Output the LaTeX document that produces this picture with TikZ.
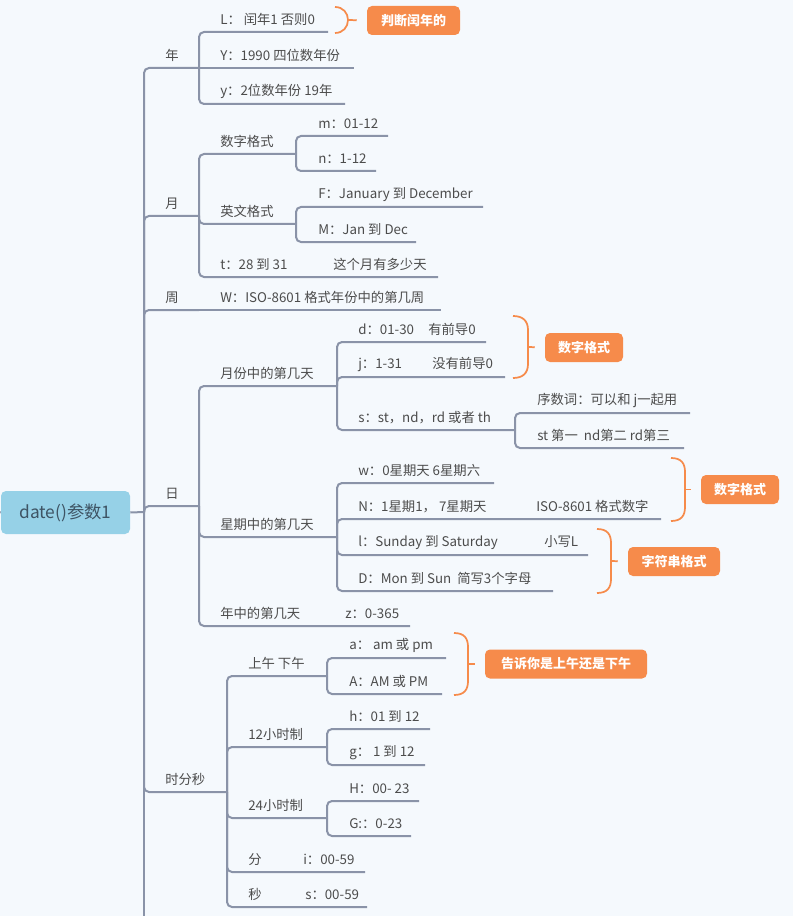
\documentclass[tikz,border=0pt]{standalone}
\usepackage{fontspec}
\setmainfont{Noto Sans CJK SC}
\definecolor{bgclr}{RGB}{245,249,253}
\definecolor{lnclr}{RGB}{138,147,168}
\definecolor{txtclr}{RGB}{76,76,76}
\definecolor{rootclr}{RGB}{150,209,231}
\definecolor{rtxtclr}{RGB}{62,84,100}
\definecolor{orclr}{RGB}{246,139,75}
\tikzset{
  topic/.style={anchor=west, inner sep=0pt, yshift=-1.1pt, text=txtclr},
  branch/.style={draw=lnclr, line width=1.5pt, rounded corners=3.75pt},
  callout/.style={fill=orclr, rounded corners=3.75pt, text=white, minimum height=21.75pt, inner sep=0pt, font=\fontsize{9.75pt}{12pt}\selectfont\bfseries},
  brc/.style={draw=orclr, line width=1.3pt},
}
\begin{document}
\begin{tikzpicture}[x=0.75pt,y=-0.75pt,node font=\fontsize{10pt}{12pt}\selectfont]
			\useasboundingbox (0,0) rectangle (793,916);
			\fill[bgclr] (0,0) rectangle (793,916);
			% root
			\node[fill=rootclr, rounded corners=3.75pt, minimum width=96.75pt, minimum height=32.25pt, text=rtxtclr, font=\fontsize{13pt}{15pt}\selectfont] (root) at (65.5,512.5) {date()参数1};
			\coordinate (tr) at (144,512);
			\coordinate (up) at (-2,512);
			\coordinate (dn) at (144,920);
			% first level
			\node[topic] (nian) at (165,54) {年};      \coordinate (nian-e) at (199,68);
			\node[topic] (yue) at (165,202) {月};      \coordinate (yue-e) at (199,216);
			\node[topic] (zhou) at (165,296) {周};     \coordinate (zhou-e) at (199,310);
			\node[topic] (ri) at (165,492) {日};       \coordinate (ri-e) at (199,506);
			\node[topic] (sfm) at (165,778) {时分秒};  \coordinate (sfm-e) at (227,792);
			% year
			\node[topic] (L) at (220,18) {L：~闰年1 否则0};          \coordinate (L-e) at (328,32);
			\node[topic] (Yf) at (220,54) {Y：1990 四位数年份};      \coordinate (Yf-e) at (354,68);
			\node[topic] (yf) at (220,90) {y：2位数年份 19年};       \coordinate (yf-e) at (345,104);
			% month
			\node[topic] (szgs) at (220,140) {数字格式};  \coordinate (szgs-e) at (296,154);
			\node[topic] (ywgs) at (220,210) {英文格式};  \coordinate (ywgs-e) at (296,224);
			\node[topic] (t) at (220,263) {\makebox[84.75pt][l]{t：28 到 31}这个月有多少天};  \coordinate (t-e) at (438,277);
			\node[topic] (m) at (318,122) {m：01-12};  \coordinate (m-e) at (388,136);
			\node[topic] (n) at (318,157) {n：1-12};   \coordinate (n-e) at (376,171);
			\node[topic] (F) at (318,193) {F：January 到 December};  \coordinate (F-e) at (483,207);
			\node[topic] (M) at (318,228) {M：Jan 到 Dec};  \coordinate (M-e) at (416,242);
			% week
			\node[topic] (W) at (220,296) {W：ISO-8601 格式年份中的第几周};  \coordinate (W-e) at (441,310);
			% day
			\node[topic] (yfday) at (220,372) {月份中的第几天};  \coordinate (yfday-e) at (337,386);
			\node[topic] (xqday) at (220,523) {星期中的第几天};  \coordinate (xqday-e) at (337,537);
			\node[topic] (nday) at (220,612) {\makebox[93.75pt][l]{年中的第几天}z：0-365};  \coordinate (nday-e) at (410,626);
			\node[topic] (d) at (358,328) {\makebox[52.5pt][l]{d：01-30}有前导0};  \coordinate (d-e) at (486,342);
			\node[topic] (j) at (358,363) {\makebox[55.5pt][l]{j：1-31}没有前导0};  \coordinate (j-e) at (505,377);
			\node[topic] (s) at (358,416) {s：st，nd，rd 或者 th};  \coordinate (s-e) at (515,430);
			\node[topic] (xsc) at (537,399) {序数词：可以和 j一起用};  \coordinate (xsc-e) at (690,413);
			\node[topic] (st) at (537,434) {st 第一~ nd第二 rd第三};  \coordinate (st-e) at (684,448);
			\node[topic] (w) at (358,469) {w：0星期天 6星期六};  \coordinate (w-e) at (494,483);
			\node[topic] (N) at (358,505) {\makebox[133.5pt][l]{N：1星期1，~7星期天}ISO-8601 格式数字};  \coordinate (N-e) at (661,519);
			\node[topic] (l) at (358,541) {\makebox[139.5pt][l]{l：Sunday 到 Saturday}小写L};  \coordinate (l-e) at (588,555);
			\node[topic] (D) at (358,577) {D：Mon 到 Sun~ 简写3个字母};  \coordinate (D-e) at (553,591);
			% time
			\node[topic] (swxw) at (248,662) {上午 下午};  \coordinate (swxw-e) at (327,676);
			\node[topic] (h12) at (248,733) {12小时制};   \coordinate (h12-e) at (327,747);
			\node[topic] (h24) at (248,804) {24小时制};   \coordinate (h24-e) at (327,818);
			\node[topic] (fen) at (248,858) {\makebox[41.25pt][l]{分}i：00-59};  \coordinate (fen-e) at (365,872);
			\node[topic] (miao) at (248,893) {\makebox[42.75pt][l]{秒}s：00-59};  \coordinate (miao-e) at (367,907);
			\node[topic] (a) at (349,644) {a：~am 或 pm};  \coordinate (a-e) at (446,658);
			\node[topic] (A) at (349,680) {A：AM 或 PM};   \coordinate (A-e) at (442,694);
			\node[topic] (hh) at (349,715) {h：01 到 12};  \coordinate (hh-e) at (430,729);
			\node[topic] (g) at (349,751) {g：~1 到 12};   \coordinate (g-e) at (425,765);
			\node[topic] (H) at (349,787) {H：00- 23};     \coordinate (H-e) at (419,801);
			\node[topic] (G) at (349,822) {G:：0-23};      \coordinate (G-e) at (411,836);
			% connectors
			\draw[branch] (up) -- (root.west);
			\draw[branch] (root.east) -- (tr);
			\draw[branch] (tr) -- (dn);
			\foreach \c in {nian,yue,zhou,ri,sfm} \draw[branch] (tr) |- (\c-e);
			\foreach \c in {L,yf} \draw[branch] (nian-e) |- (\c-e);
			\draw[branch] (nian-e) -- (Yf-e);
			\foreach \c in {szgs,ywgs,t} \draw[branch] (yue-e) |- (\c-e);
			\foreach \c in {m,n} \draw[branch] (szgs-e) |- (\c-e);
			\foreach \c in {F,M} \draw[branch] (ywgs-e) |- (\c-e);
			\draw[branch] (zhou-e) -- (W-e);
			\foreach \c in {yfday,xqday,nday} \draw[branch] (ri-e) |- (\c-e);
			\foreach \c in {d,j,s} \draw[branch] (yfday-e) |- (\c-e);
			\foreach \c in {xsc,st} \draw[branch] (s-e) |- (\c-e);
			\foreach \c in {w,N,l,D} \draw[branch] (xqday-e) |- (\c-e);
			\foreach \c in {swxw,h12,h24,fen,miao} \draw[branch] (sfm-e) |- (\c-e);
			\foreach \c in {a,A} \draw[branch] (swxw-e) |- (\c-e);
			\foreach \c in {hh,g} \draw[branch] (h12-e) |- (\c-e);
			\foreach \c in {H,G} \draw[branch] (h24-e) |- (\c-e);
			% callouts
			\node[callout, minimum width=69.75pt] (c1) at (413.5,20.5) {判断闰年的};
			\node[callout, minimum width=58.5pt] (c2) at (584,347.5) {数字格式};
			\node[callout, minimum width=58.5pt] (c3) at (740,489.5) {数字格式};
			\node[callout, minimum width=69pt] (c4) at (674,561.5) {字符串格式};
			\node[callout, minimum width=121.5pt] (c5) at (566,664) {告诉你是上午还是下午};
			\draw[brc] (335,7) .. controls (343,7) and (348,13) .. (348,20) .. controls (348,27) and (343,33) .. (335,33);
			\draw[brc] (513,316) .. controls (523,316) and (528,321) .. (528,330) -- (528,364) .. controls (528,373) and (523,378) .. (513,378);
			\draw[brc] (671,458) .. controls (681,458) and (685,463) .. (685,472) -- (685,507) .. controls (685,516) and (681,521) .. (671,521);
			\draw[brc] (597,529) .. controls (607,529) and (611,534) .. (611,543) -- (611,579) .. controls (611,588) and (607,593) .. (597,593);
			\draw[brc] (454,633) .. controls (464,633) and (468,638) .. (468,647) -- (468,681) .. controls (468,690) and (464,695) .. (454,695);
			\coordinate (b1) at (348,20);
			\coordinate (b2) at (528,347);
			\coordinate (b3) at (685,489.5);
			\coordinate (b4) at (611,561);
			\coordinate (b5) at (468,664);
			\foreach \b/\c in {b1/c1,b2/c2,b3/c3,b4/c4,b5/c5} \draw[brc, shorten >=7.5pt] (\b) -- (\c.west);
		\end{tikzpicture}
\end{document}
